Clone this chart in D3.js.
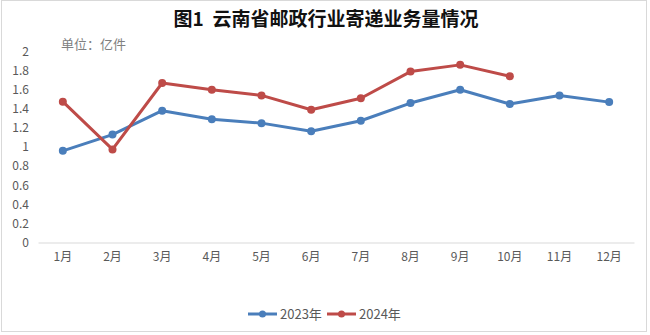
<!DOCTYPE html>
<html>
<head>
<meta charset="utf-8">
<script src="https://cdn.jsdelivr.net/npm/d3@7"></script>
<style>
  html, body { margin: 0; padding: 0; background: #fff; }
  svg { display: block; }
  text { font-family: "Noto Sans CJK SC", "Noto Sans", sans-serif; }
</style>
</head>
<body>
<svg id="chart" width="650" height="335"></svg>
<script>
// 月份与两年业务量（亿件）
const months = ["1月","2月","3月","4月","5月","6月","7月","8月","9月","10月","11月","12月"];
const values2023 = [0.96, 1.13, 1.38, 1.29, 1.25, 1.165, 1.275, 1.46, 1.60, 1.45, 1.54, 1.47];
const values2024 = [1.475, 0.975, 1.67, 1.60, 1.54, 1.39, 1.51, 1.79, 1.86, 1.74];
const yTicks = [0, 0.2, 0.4, 0.6, 0.8, 1, 1.2, 1.4, 1.6, 1.8, 2];
const seriesNames = ["2023年", "2024年"];
const seriesColors = ["#4a7ebb", "#be4b48"];

const svg = d3.select("#chart");

// 外框
svg.append("rect")
  .attr("x", 1.5).attr("y", 0.5).attr("width", 645).attr("height", 331)
  .attr("fill", "#fff").attr("stroke", "#d9d9d9");

const plot = { left: 38, right: 634, top: 51.5, bottom: 242.5 };

const x = d3.scaleBand().domain(months).range([plot.left, plot.right]);
const y = d3.scaleLinear().domain([0, 2]).range([plot.bottom, plot.top]);

// 标题
svg.append("text")
  .attr("x", 326).attr("y", 26)
  .attr("text-anchor", "middle")
  .style("white-space", "pre")
  .attr("font-size", 19).attr("font-weight", "bold").attr("fill", "#111")
  .text("图1  云南省邮政行业寄递业务量情况");

svg.append("text")
  .attr("x", 61).attr("y", 49)
  .attr("font-size", 13).attr("fill", "#808080")
  .text("单位：亿件");

// Y 轴
const yAxis = d3.axisLeft(y).tickValues(yTicks).tickSize(0).tickPadding(0)
  .tickFormat(d3.format("~g"));
const yg = svg.append("g").attr("transform", `translate(29,0)`).call(yAxis);
yg.select(".domain").remove();
yg.selectAll("text").attr("font-size", 12).attr("fill", "#595959")
  .attr("font-family", "'Open Sans', 'Noto Sans', sans-serif");

// X 轴
const xAxis = d3.axisBottom(x).tickSize(0).tickPadding(10);
const xg = svg.append("g").attr("transform", `translate(0,${plot.bottom})`).call(xAxis);
xg.select(".domain").attr("stroke", "#d9d9d9").attr("stroke-width", 1);
xg.selectAll("text").attr("font-size", 12).attr("fill", "#595959");

// 折线
const line = d3.line()
  .x((d, i) => x(months[i]) + x.bandwidth() / 2)
  .y(d => y(d));

[values2023, values2024].forEach((vals, k) => {
  const g = svg.append("g");
  g.append("path").datum(vals)
    .attr("d", line).attr("fill", "none")
    .attr("stroke", seriesColors[k]).attr("stroke-width", 3)
    .attr("stroke-linejoin", "round");
  g.selectAll("circle").data(vals).enter().append("circle")
    .attr("cx", (d, i) => x(months[i]) + x.bandwidth() / 2)
    .attr("cy", d => y(d))
    .attr("r", 4)
    .attr("fill", seriesColors[k]);
});

// 图例
const legend = svg.append("g").attr("transform", "translate(248,314)");
const legendX = [0, 79];
seriesNames.forEach((name, k) => {
  const lg = legend.append("g").attr("transform", `translate(${legendX[k]},0)`);
  lg.append("line").attr("x1", 0).attr("x2", 29).attr("y1", 0).attr("y2", 0)
    .attr("stroke", seriesColors[k]).attr("stroke-width", 3);
  lg.append("circle").attr("cx", 14.5).attr("cy", 0).attr("r", 3.5).attr("fill", seriesColors[k]);
  lg.append("text").attr("x", 32).attr("y", 0).attr("dy", "0.36em")
    .attr("font-size", 13).attr("fill", "#595959").text(name);
});
</script>
</body>
</html>
